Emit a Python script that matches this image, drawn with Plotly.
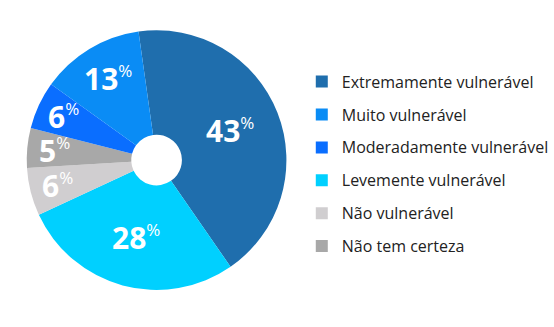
import math
import plotly.graph_objects as go

# legend order
categories = ["Extremamente vulnerável", "Muito vulnerável", "Moderadamente vulnerável",
              "Levemente vulnerável", "Não vulnerável", "Não tem certeza"]
values = [43, 13, 6, 28, 6, 5]
colors = ["#1F6EAD", "#0A8CF5", "#0A6EFF", "#00D0FF", "#D0CED0", "#A8A8A8"]

# drawing order of the slices, clockwise from the top
order = [0, 3, 4, 5, 2, 1]

W, H = 554, 327
DOM_X = [0.0487, 0.5217]
DOM_Y = [0.110, 0.911]
ROTATION = -8
HOLE = 0.195

labels = [categories[i] for i in order]
vals = [values[i] for i in order]
cols = [colors[i] for i in order]

fig = go.Figure()

# legend-only pie (tiny, hidden under the main pie) so the legend keeps the reference order
fig.add_trace(go.Pie(
    labels=[f"<span style='font-size:16px;baseline-shift:3.5px'>{c}</span>" for c in categories],
    values=values,
    marker=dict(colors=colors, line=dict(width=0)),
    sort=False,
    textinfo="none",
    hoverinfo="skip",
    domain=dict(x=[0.40, 0.401], y=[0.55, 0.551]),
    showlegend=True,
))

# main pie
fig.add_trace(go.Pie(
    labels=[f"<span style='font-size:16px;baseline-shift:3.5px'>{l}</span>" for l in labels],
    values=vals,
    textinfo="none",
    marker=dict(colors=cols, line=dict(width=0)),
    sort=False,
    direction="clockwise",
    rotation=ROTATION,
    hole=HOLE,
    domain=dict(x=DOM_X, y=DOM_Y),
    hoverinfo="skip",
    showlegend=False,
))

# slice labels placed at each slice's mid angle (computed from the data)
cx = (DOM_X[0] + DOM_X[1]) / 2 * W
cy = (DOM_Y[0] + DOM_Y[1]) / 2 * H
R = min((DOM_X[1] - DOM_X[0]) * W, (DOM_Y[1] - DOM_Y[0]) * H) / 2
total = sum(vals)
acc = 0
annotations = []
for v in vals:
    mid = ROTATION + (acc + v / 2) / total * 360
    acc += v
    rf = 0.61 if v >= 20 else (0.73 if v >= 10 else 0.79)
    th = math.radians(mid)
    px = cx + rf * R * math.sin(th)
    py = cy + rf * R * math.cos(th)
    annotations.append(dict(
        x=px / W, y=py / H, xref="paper", yref="paper",
        xanchor="center", yanchor="middle", showarrow=False,
        text=f"<b>{v}</b><sup><span style='font-size:17px'>%</span></sup>",
        font=dict(family="Open Sans", size=30, color="white"),
    ))

fig.update_layout(
    width=W, height=H,
    margin=dict(l=0, r=0, t=0, b=0),
    paper_bgcolor="white",
    plot_bgcolor="white",
    annotations=annotations,
    legend=dict(
        x=0.5497, y=0.816, xanchor="left", yanchor="top",
        font=dict(family="Open Sans", size=23, color="#222222"),
        traceorder="normal",
    ),
    showlegend=True,
)
fig.write_html("out.html")
